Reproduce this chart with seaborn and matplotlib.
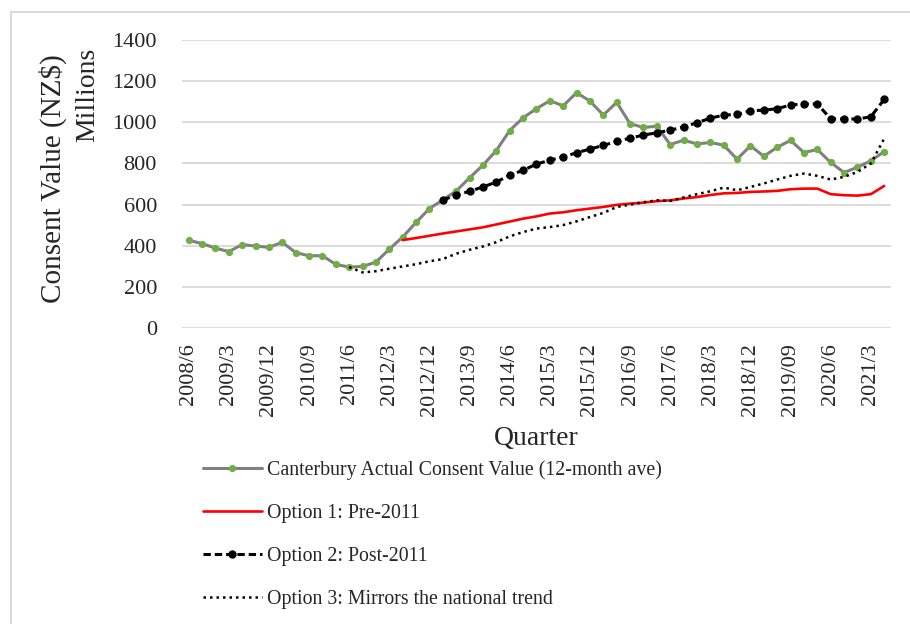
import matplotlib.pyplot as plt
import matplotlib.patches as mpatches
import seaborn as sns
import numpy as np
import pandas as pd

quarters = [
    "2008/6", "2008/9", "2008/12", "2009/3", "2009/6", "2009/9", "2009/12",
    "2010/3", "2010/6", "2010/9", "2010/12", "2011/3", "2011/6", "2011/9",
    "2011/12", "2012/3", "2012/6", "2012/9", "2012/12", "2013/3", "2013/6",
    "2013/9", "2013/12", "2014/3", "2014/6", "2014/9", "2014/12", "2015/3",
    "2015/6", "2015/9", "2015/12", "2016/3", "2016/6", "2016/9", "2016/12",
    "2017/3", "2017/6", "2017/9", "2017/12", "2018/3", "2018/6", "2018/9",
    "2018/12", "2019/3", "2019/6", "2019/09", "2019/12", "2020/3", "2020/6",
    "2020/9", "2020/12", "2021/3", "2021/6",
]

actual = [427, 411, 389, 372, 406, 399, 393, 417, 367, 352, 352, 310, 297, 300,
          321, 384, 443, 514, 581, 623, 667, 730, 792, 863, 960, 1022, 1066,
          1105, 1080, 1144, 1103, 1035, 1097, 993, 975, 981, 892, 913, 895, 902,
          889, 821, 886, 835, 879, 912, 853, 868, 805, 756, 782, 813, 858]

# options start later than the actual series (first quarter with a value)
option1_start = "2012/6"
option1 = [428, 438, 449, 460, 470, 480, 490, 504, 518, 532, 543, 557, 563, 573,
           581, 589, 599, 605, 610, 617, 621, 630, 637, 647, 655, 657, 662, 664,
           667, 675, 678, 678, 651, 646, 644, 651, 691]

option2_start = "2013/3"
option2 = [623, 646, 665, 686, 710, 743, 767, 797, 816, 832, 852, 870, 888, 907,
           923, 938, 949, 962, 977, 998, 1020, 1035, 1038, 1056, 1059, 1066, 1084,
           1089, 1089, 1017, 1016, 1016, 1027, 1111]

option3_start = "2011/6"
option3 = [297, 271, 277, 289, 300, 311, 325, 336, 362, 381, 397, 418, 446, 467,
           484, 491, 501, 519, 540, 560, 589, 600, 612, 621, 618, 635, 651, 665,
           683, 670, 686, 703, 722, 740, 751, 740, 722, 735, 759, 800, 921]

names = ["Canterbury Actual Consent Value (12-month ave)",
         "Option 1: Pre-2011",
         "Option 2: Post-2011",
         "Option 3: Mirrors the national trend"]


def pad(values, start):
    n = quarters.index(start)
    return [np.nan] * n + values


df = pd.DataFrame({
    "pos": np.arange(len(quarters)),
    "actual": actual,
    "opt1": pad(option1, option1_start),
    "opt2": pad(option2, option2_start),
    "opt3": pad(option3, option3_start),
})

sns.set_theme(style="white")
plt.rcParams['font.family'] = ['Liberation Serif', 'DejaVu Serif']

fig = plt.figure(figsize=(9.1, 6.24), dpi=100)
ax = fig.add_axes([0.2, 0.474, 0.779, 0.462])

sns.lineplot(data=df, x="pos", y="actual", ax=ax, color="#808080", lw=2.2,
             marker="o", markersize=5.2, markerfacecolor="#70ad47",
             markeredgecolor="#70ad47", markeredgewidth=0, label=names[0])
sns.lineplot(data=df, x="pos", y="opt1", ax=ax, color="#ff0000", lw=1.9,
             label=names[1])
sns.lineplot(data=df, x="pos", y="opt2", ax=ax, color="black", lw=2.2,
             linestyle=(0, (2.4, 1.3)), marker="o", markersize=6,
             markerfacecolor="black", markeredgecolor="black",
             markeredgewidth=0, label=names[2])
sns.lineplot(data=df, x="pos", y="opt3", ax=ax, color="black", lw=1.8,
             linestyle=(0, (1, 1.6)), label=names[3])

ax.set_xlim(-0.5, len(quarters) - 0.5)
ax.set_ylim(0, 1400)
ax.set_yticks(range(0, 1401, 200))
ticks = list(range(0, len(quarters), 3))
ax.set_xticks(ticks)
ax.set_xticklabels([quarters[i] for i in ticks], rotation=90)
ax.tick_params(axis="y", length=0, pad=18, labelsize=16)
ax.tick_params(axis="x", length=0, pad=11, labelsize=16)
ax.yaxis.grid(True, color="#d9d9d9", lw=1.3)
ax.xaxis.grid(False)
for s in ax.spines.values():
    s.set_visible(False)

ax.set_xlabel("Quarter", fontsize=20)
ax.xaxis.set_label_coords(0.5, -0.34)
ax.set_ylabel("Consent Value (NZ$)", fontsize=21)
ax.yaxis.set_label_coords(-0.162, 0.52)
fig.text(88 / 910, 1 - 95 / 624, "Millions", rotation=90, fontsize=20,
         ha="center", va="center")

ax.legend(loc="upper left", bbox_to_anchor=(0.223, 0.262),
          bbox_transform=fig.transFigure, frameon=False, fontsize=14.3,
          handlelength=2.95, handletextpad=0.3, labelspacing=1.2,
          borderaxespad=0, borderpad=0)

fig.patches.append(mpatches.Rectangle((0.012, -0.05), 1.05, 1.031,
                                      transform=fig.transFigure, fill=False,
                                      edgecolor="#d9d9d9", lw=1.5))

fig.savefig("out.png", dpi=100, facecolor="white")
